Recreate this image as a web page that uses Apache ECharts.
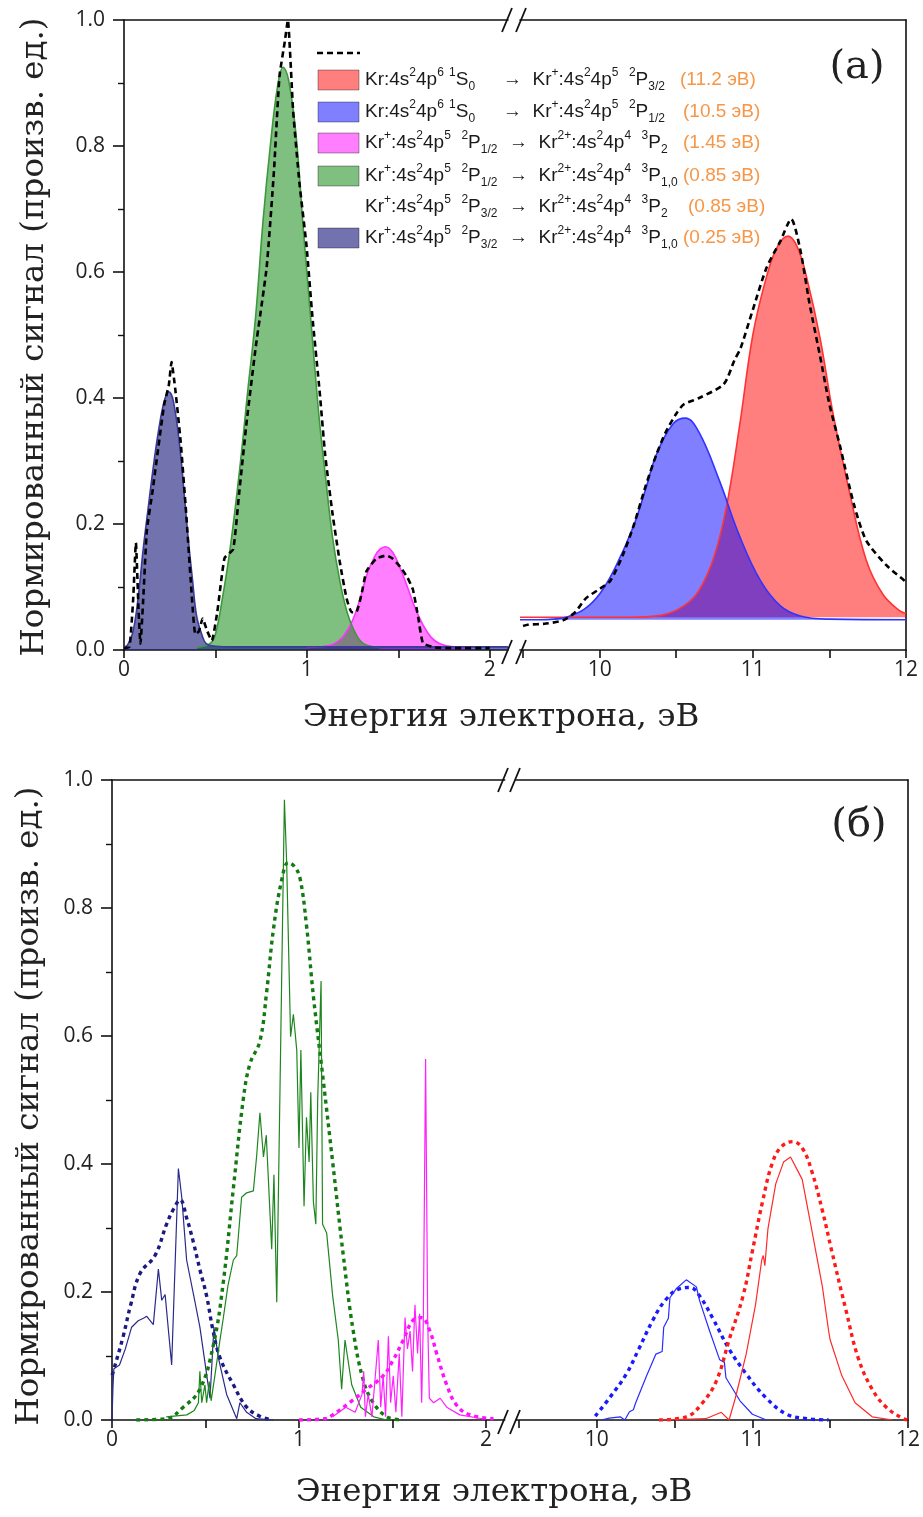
<!DOCTYPE html>
<html><head><meta charset="utf-8">
<script src="https://cdn.jsdelivr.net/npm/echarts@6/dist/echarts.min.js"></script>
<style>html,body{margin:0;padding:0;background:#fff}#c{width:923px;height:1517px}</style>
</head><body><div id="c"></div>
<script>
// ---------------- DATA ----------------
// Panel (a): fitted components [energy eV, signal]
const fitA_0_25 = [[0.0,0.005],[0.02,0.008],[0.05,0.03],[0.08,0.09],[0.105,0.16],[0.13,0.22],[0.16,0.29],[0.19,0.35],[0.22,0.395],[0.245,0.41],[0.27,0.395],[0.306,0.32],[0.33,0.245],[0.35,0.18],[0.375,0.11],[0.397,0.054],[0.425,0.025],[0.45,0.01],[0.5,0.006],[0.6,0.005],[2.1,0.005]];
const fitA_0_85 = [[0.40,0.004],[0.47,0.01],[0.50,0.025],[0.54,0.085],[0.58,0.16],[0.63,0.28],[0.68,0.42],[0.72,0.53],[0.76,0.68],[0.80,0.80],[0.84,0.895],[0.87,0.925],[0.90,0.905],[0.94,0.82],[0.98,0.67],[1.00,0.60],[1.04,0.46],[1.07,0.36],[1.10,0.28],[1.14,0.18],[1.18,0.11],[1.22,0.06],[1.26,0.03],[1.31,0.01],[1.40,0.004]];
const fitA_1_45 = [[1.0,0.004],[1.10,0.006],[1.15,0.01],[1.20,0.022],[1.25,0.047],[1.30,0.09],[1.326,0.118],[1.37,0.148],[1.40,0.16],[1.43,0.164],[1.47,0.155],[1.51,0.13],[1.545,0.104],[1.59,0.068],[1.635,0.04],[1.68,0.02],[1.727,0.01],[1.80,0.005],[1.9,0.004]];
const fitA_10_5 = [[9.48,0.048],[9.6,0.048],[9.7,0.049],[9.78,0.052],[9.9,0.065],[10.0,0.089],[10.1,0.13],[10.22,0.196],[10.3,0.255],[10.37,0.31],[10.48,0.359],[10.56,0.368],[10.65,0.345],[10.78,0.27],[10.915,0.18],[11.05,0.11],[11.18,0.07],[11.31,0.054],[11.5,0.049],[12.0,0.048]];
const fitA_11_2 = [[9.48,0.052],[10.2,0.052],[10.4,0.055],[10.55,0.07],[10.65,0.095],[10.75,0.15],[10.83,0.23],[10.915,0.358],[11.0,0.50],[11.09,0.593],[11.16,0.64],[11.23,0.657],[11.29,0.64],[11.35,0.593],[11.44,0.494],[11.52,0.38],[11.63,0.252],[11.74,0.143],[11.85,0.088],[11.96,0.062],[12.0,0.058]];
// Panel (a): experimental spectrum (dashed)
const expA_low = [[0.00,0.003],[0.03,0.005],[0.05,0.08],[0.065,0.17],[0.08,0.06],[0.09,0.01],[0.105,0.08],[0.125,0.19],[0.155,0.25],[0.187,0.32],[0.22,0.39],[0.245,0.42],[0.26,0.457],[0.28,0.415],[0.31,0.33],[0.34,0.217],[0.365,0.11],[0.39,0.025],[0.41,0.03],[0.43,0.05],[0.455,0.03],[0.48,0.015],[0.51,0.06],[0.55,0.146],[0.597,0.16],[0.63,0.25],[0.67,0.36],[0.72,0.48],[0.78,0.607],[0.82,0.76],[0.85,0.91],[0.88,0.967],[0.896,1.0],[0.925,0.855],[0.96,0.74],[0.998,0.642],[1.03,0.53],[1.07,0.41],[1.10,0.31],[1.14,0.217],[1.18,0.14],[1.217,0.082],[1.245,0.06],[1.27,0.06],[1.30,0.09],[1.326,0.125],[1.38,0.145],[1.436,0.15],[1.47,0.145],[1.51,0.132],[1.55,0.115],[1.58,0.096],[1.61,0.05],[1.635,0.011],[1.70,0.004],[1.80,0.003],[2.0,0.003]];
const expA_high = [[9.50,0.038],[9.53,0.04],[9.65,0.042],[9.76,0.047],[9.84,0.06],[9.91,0.082],[10.0,0.097],[10.07,0.11],[10.15,0.15],[10.22,0.196],[10.30,0.26],[10.37,0.31],[10.43,0.345],[10.50,0.375],[10.55,0.39],[10.65,0.40],[10.81,0.422],[10.88,0.46],[10.92,0.479],[11.0,0.54],[11.09,0.607],[11.18,0.649],[11.25,0.684],[11.31,0.635],[11.37,0.55],[11.44,0.465],[11.50,0.39],[11.57,0.323],[11.66,0.231],[11.74,0.174],[11.87,0.135],[11.99,0.11],[12.0,0.108]];
// Panel (б): model (solid) and smoothed (dotted)
const navyDotB = [[0.0,0.07],[0.007,0.076],[0.06,0.131],[0.10,0.18],[0.15,0.229],[0.23,0.257],[0.292,0.306],[0.33,0.33],[0.364,0.344],[0.40,0.315],[0.435,0.278],[0.47,0.235],[0.506,0.194],[0.54,0.14],[0.578,0.097],[0.649,0.055],[0.72,0.02],[0.79,0.006],[0.86,0.0]];
const navySolidB = [[0.0,0.0],[0.005,0.05],[0.01,0.08],[0.04,0.086],[0.07,0.11],[0.105,0.145],[0.14,0.155],[0.168,0.159],[0.186,0.162],[0.221,0.149],[0.248,0.236],[0.266,0.187],[0.284,0.196],[0.319,0.086],[0.355,0.393],[0.373,0.348],[0.399,0.25],[0.444,0.184],[0.47,0.145],[0.497,0.09],[0.524,0.034],[0.545,0.145],[0.569,0.097],[0.613,0.04],[0.667,0.002],[0.684,0.027],[0.72,0.012],[0.77,0.002],[0.86,0.0]];
const greenDotB = [[0.13,0.0],[0.29,0.002],[0.381,0.02],[0.47,0.048],[0.542,0.117],[0.595,0.215],[0.649,0.362],[0.702,0.501],[0.738,0.557],[0.791,0.592],[0.827,0.669],[0.863,0.766],[0.907,0.843],[0.943,0.871],[0.975,0.865],[1.005,0.847],[1.04,0.773],[1.077,0.662],[1.13,0.53],[1.18,0.403],[1.237,0.257],[1.29,0.139],[1.344,0.062],[1.397,0.027],[1.47,0.005],[1.55,0.0]];
const greenSolidB = [[0.29,0.005],[0.40,0.008],[0.44,0.015],[0.462,0.027],[0.47,0.076],[0.48,0.027],[0.497,0.055],[0.506,0.027],[0.52,0.06],[0.53,0.03],[0.55,0.069],[0.575,0.12],[0.595,0.159],[0.62,0.21],[0.649,0.25],[0.667,0.257],[0.693,0.348],[0.72,0.355],[0.756,0.358],[0.774,0.414],[0.791,0.48],[0.81,0.411],[0.825,0.445],[0.854,0.267],[0.866,0.383],[0.881,0.184],[0.907,0.683],[0.922,0.969],[0.934,0.871],[0.955,0.599],[0.97,0.634],[0.988,0.578],[1.0,0.425],[1.01,0.578],[1.027,0.334],[1.04,0.473],[1.054,0.403],[1.063,0.512],[1.077,0.341],[1.09,0.306],[1.10,0.501],[1.118,0.686],[1.126,0.306],[1.148,0.292],[1.18,0.194],[1.21,0.125],[1.228,0.048],[1.246,0.125],[1.282,0.055],[1.33,0.02],[1.40,0.005],[1.47,0.0]];
const magentaDotB = [[1.0,0.0],[1.14,0.002],[1.18,0.008],[1.27,0.027],[1.36,0.048],[1.45,0.069],[1.504,0.094],[1.558,0.125],[1.61,0.156],[1.656,0.16],[1.70,0.139],[1.736,0.104],[1.79,0.055],[1.843,0.023],[1.914,0.008],[2.04,0.002]];
const magentaSolidB = [[1.18,0.005],[1.25,0.02],[1.30,0.012],[1.337,0.04],[1.346,0.076],[1.355,0.005],[1.37,0.04],[1.39,0.005],[1.424,0.125],[1.437,0.02],[1.45,0.069],[1.463,0.005],[1.478,0.131],[1.49,0.027],[1.504,0.069],[1.518,0.012],[1.536,0.104],[1.55,0.005],[1.567,0.16],[1.58,0.111],[1.594,0.139],[1.607,0.076],[1.62,0.18],[1.634,0.104],[1.645,0.166],[1.656,0.027],[1.665,0.16],[1.677,0.564],[1.688,0.16],[1.697,0.034],[1.72,0.027],[1.755,0.034],[1.79,0.02],[1.86,0.008],[1.98,0.002]];
const blueDotB = [[9.99,0.006],[10.08,0.034],[10.19,0.072],[10.27,0.111],[10.36,0.156],[10.44,0.187],[10.53,0.205],[10.6,0.207],[10.66,0.194],[10.745,0.159],[10.85,0.111],[10.96,0.072],[11.09,0.034],[11.22,0.009],[11.35,0.002],[11.49,0.0]];
const blueSolidB = [[10.03,0.0],[10.08,0.003],[10.15,0.005],[10.18,0.0],[10.21,0.013],[10.235,0.016],[10.25,0.027],[10.32,0.069],[10.38,0.103],[10.42,0.107],[10.43,0.145],[10.46,0.159],[10.47,0.191],[10.51,0.205],[10.575,0.219],[10.64,0.208],[10.66,0.187],[10.725,0.139],[10.79,0.094],[10.82,0.09],[10.83,0.066],[10.92,0.03],[11.0,0.009],[11.09,0.0]];
const redDotB = [[10.4,0.0],[10.575,0.005],[10.68,0.027],[10.77,0.062],[10.85,0.125],[10.94,0.194],[11.0,0.264],[11.065,0.341],[11.13,0.403],[11.19,0.428],[11.26,0.435],[11.32,0.425],[11.38,0.39],[11.45,0.327],[11.51,0.264],[11.6,0.173],[11.68,0.097],[11.77,0.048],[11.86,0.02],[11.97,0.002],[12.0,0.0]];
const redSolidB = [[10.4,0.0],[10.7,0.002],[10.77,0.009],[10.8,0.012],[10.85,0.0],[10.89,0.034],[10.96,0.103],[11.02,0.18],[11.06,0.25],[11.07,0.257],[11.08,0.241],[11.1,0.299],[11.15,0.369],[11.2,0.403],[11.245,0.411],[11.29,0.39],[11.32,0.376],[11.38,0.299],[11.45,0.208],[11.49,0.139],[11.5,0.125],[11.575,0.069],[11.66,0.027],[11.77,0.005],[11.9,0.0]];

// axis ticks / labels
const xLowTicks = [0, 0.5, 1, 1.5, 2];
const xLowLabels = [0, 1, 2];
const xHighTicks = [9.5, 10, 10.5, 11, 11.5, 12];
const xHighLabels = [10, 11, 12];
const xLowRange = [0, 2.1];
const xHighRange = [9.48, 12];
const baseBlueA = 0.048, baseRedA = 0.052;

// texts
const yTitle = 'Нормированный сигнал (произв. ед.)';
const xTitle = 'Энергия электрона, эВ';
const panelTags = ['(a)', '(б)'];
const legendA = [
  ['Kr:4s^{2}4p^{6} ^{1}S_{0}', '→  Kr^{+}:4s^{2}4p^{5}  ^{2}P_{3/2}', '(11.2 эВ)', 'rgba(255,0,0,0.5)'],
  ['Kr:4s^{2}4p^{6} ^{1}S_{0}', '→  Kr^{+}:4s^{2}4p^{5}  ^{2}P_{1/2}', '(10.5 эВ)', 'rgba(0,0,255,0.5)'],
  ['Kr^{+}:4s^{2}4p^{5}  ^{2}P_{1/2}', '→  Kr^{2+}:4s^{2}4p^{4}  ^{3}P_{2}', '(1.45 эВ)', 'rgba(255,0,255,0.5)'],
  ['Kr^{+}:4s^{2}4p^{5}  ^{2}P_{1/2}', '→  Kr^{2+}:4s^{2}4p^{4}  ^{3}P_{1,0}', '(0.85 эВ)', 'rgba(0,128,0,0.5)'],
  ['Kr^{+}:4s^{2}4p^{5}  ^{2}P_{3/2}', '→  Kr^{2+}:4s^{2}4p^{4}  ^{3}P_{2}', '(0.85 эВ)', null],
  ['Kr^{+}:4s^{2}4p^{5}  ^{2}P_{3/2}', '→  Kr^{2+}:4s^{2}4p^{4}  ^{3}P_{1,0}', '(0.25 эВ)', 'rgba(20,20,120,0.6)']
];

// ---------------- LAYOUT ----------------
const G = [
  {left:124, top:20, width:384, height:630},
  {left:520, top:20, width:386, height:630},
  {left:112, top:780, width:392.7, height:640},
  {left:515.9, top:780, width:393.1, height:640}
];
const AXC = '#111', TF = 'Open Sans', SERIF = 'DejaVu Serif';

function xBottom(gi, range, ticks, labels) {
  return {type:'value', gridIndex:gi, position:'bottom', min:range[0], max:range[1],
    axisLine:{show:true, onZero:false, lineStyle:{color:AXC, width:1.6}},
    axisTick:{show:true, inside:false, length:8, customValues:ticks, lineStyle:{color:AXC, width:1.6}},
    axisLabel:{show:true, customValues:labels, margin:10, color:'#222', fontSize:21, fontFamily:TF, formatter:v=>String(v)},
    splitLine:{show:false}};
}
function xTop(gi, range) {
  return {type:'value', gridIndex:gi, position:'top', min:range[0], max:range[1],
    axisLine:{show:true, onZero:false, lineStyle:{color:AXC, width:1.6}},
    axisTick:{show:false}, axisLabel:{show:false}, splitLine:{show:false}};
}
function yLeft(gi) {
  return {type:'value', gridIndex:gi, position:'left', min:0, max:1, interval:0.2,
    axisLine:{show:true, onZero:false, lineStyle:{color:AXC, width:1.6}},
    axisTick:{show:true, inside:false, length:11, lineStyle:{color:AXC, width:1.6}},
    minorTick:{show:true, splitNumber:2, length:6, lineStyle:{color:AXC, width:1.4}},
    axisLabel:{show:true, margin:19, color:'#222', fontSize:21, fontFamily:TF, formatter:v=>v.toFixed(1)},
    splitLine:{show:false}, minorSplitLine:{show:false}};
}
function yRight(gi) {
  return {type:'value', gridIndex:gi, position:'right', min:0, max:1,
    axisLine:{show:true, onZero:false, lineStyle:{color:AXC, width:1.6}},
    axisTick:{show:false}, axisLabel:{show:false}, splitLine:{show:false}};
}

function fill(data, xi, yi, line, area, origin) {
  return {type:'line', data, xAxisIndex:xi, yAxisIndex:yi, smooth:0.4, showSymbol:false, symbol:'none',
    lineStyle:{color:line, width:1.6}, areaStyle:{color:area, opacity:1, origin:origin}, z:2, silent:true};
}
function curve(data, xi, yi, color, width, dash, smooth, z) {
  return {type:'line', data, xAxisIndex:xi, yAxisIndex:yi, smooth:smooth, showSymbol:false, symbol:'none',
    lineStyle:{color, width, type:dash}, z:z||3, silent:true};
}

const series = [
  fill(fitA_1_45, 0, 0, '#ff33ff', 'rgba(255,0,255,0.5)', 'start'),
  fill(fitA_0_85, 0, 0, '#3c9a3c', 'rgba(0,128,0,0.5)', 'start'),
  fill(fitA_0_25, 0, 0, '#3a3a9a', 'rgba(20,20,120,0.6)', 'start'),
  curve(expA_low, 0, 0, '#000', 2.6, [6,4], 0.15, 5),
  fill(fitA_11_2, 2, 1, '#ff3333', 'rgba(255,0,0,0.5)', baseRedA),
  fill(fitA_10_5, 2, 1, '#3333ff', 'rgba(0,0,255,0.5)', baseBlueA),
  curve(expA_high, 2, 1, '#000', 2.6, [6,4], 0.25, 5),

  curve(navyDotB, 4, 2, '#1a1a80', 3.4, [4,4], 0.4),
  curve(navySolidB, 4, 2, '#2a2a8a', 1.2, 'solid', false),
  curve(greenDotB, 4, 2, '#117a11', 3.4, [4,4], 0.4),
  curve(greenSolidB, 4, 2, '#1f861f', 1.2, 'solid', false),
  curve(magentaDotB, 4, 2, '#ff10ff', 3.4, [4,4], 0.4),
  curve(magentaSolidB, 4, 2, '#ff20ff', 1.2, 'solid', false),
  curve(blueDotB, 6, 3, '#1a1aff', 3.4, [4,4], 0.4),
  curve(blueSolidB, 6, 3, '#2a2aff', 1.2, 'solid', false),
  curve(redDotB, 6, 3, '#ff1a1a', 3.4, [4,4], 0.4),
  curve(redSolidB, 6, 3, '#ff2a2a', 1.2, 'solid', false)
];

// ---------------- GRAPHIC ----------------
function rich(markup) {
  const s = markup.replace(/\^\{([^}]*)\}/g, '}{p|$1}{n|').replace(/_\{([^}]*)\}/g, '}{b|$1}{n|');
  return ('{n|' + s + '}').replace(/\{n\|\}/g, '');
}
const LF = 'Liberation Sans';
const richStyles = {
  n:{fontSize:19, fontFamily:LF, fill:'#1a1a1a', lineHeight:26},
  p:{fontSize:12, fontFamily:LF, fill:'#1a1a1a', lineHeight:18, verticalAlign:'top'},
  b:{fontSize:12, fontFamily:LF, fill:'#1a1a1a', lineHeight:12, verticalAlign:'bottom'},
  o:{fontSize:19, fontFamily:LF, fill:'#f79646', lineHeight:26}
};
const graphics = [];
function txt(x, y, text, opts) {
  graphics.push(Object.assign({type:'text', x, y, silent:true, style:Object.assign({text, x:0, y:0,
    align:'left', verticalAlign:'middle', textAlign:'left', textVerticalAlign:'middle'}, opts.style)}, opts.el || {}));
}
function slash(cx, cy) {
  graphics.push({type:'line', silent:true, shape:{x1:cx-5, y1:cy+12, x2:cx+5, y2:cy-12}, style:{stroke:'#111', lineWidth:1.8}});
}
// break marks
[[507,20],[521,20],[507,652],[521,652],[503,780],[515,780],[503,1422],[515,1422]].forEach(p=>slash(p[0],p[1]));
// legend (a)
graphics.push({type:'line', silent:true, shape:{x1:317,y1:53,x2:360,y2:53}, style:{stroke:'#000', lineWidth:2.6, lineDash:[6,4]}});
const rowY = [80,112,143,176,207,238];
const segBx = [503,503,509,509,509,509];
const segCx = [680,683,683,683,688,683];
legendA.forEach((r,i)=>{
  if (r[3]) graphics.push({type:'rect', silent:true, shape:{x:318, y:rowY[i]-10, width:41, height:20},
     style:{fill:r[3], stroke:'rgba(0,0,0,0.35)', lineWidth:1}});
  txt(365, rowY[i], rich(r[0]), {style:{rich:richStyles}});
  txt(segBx[i], rowY[i], rich(r[1]), {style:{rich:richStyles}});
  txt(segCx[i], rowY[i], '{o|'+r[2]+'}', {style:{rich:richStyles}});
});
// panel tags
txt(857, 68, panelTags[0], {style:{fontSize:40, fontFamily:SERIF, fill:'#222', align:'center', textAlign:'center'}});
txt(859, 826, panelTags[1], {style:{fontSize:40, fontFamily:SERIF, fill:'#222', align:'center', textAlign:'center'}});
// axis titles
txt(501, 718, xTitle, {style:{fontSize:32.5, fontFamily:SERIF, fill:'#222', align:'center', textAlign:'center'}});
txt(494, 1493, xTitle, {style:{fontSize:32.5, fontFamily:SERIF, fill:'#222', align:'center', textAlign:'center'}});
txt(35, 337, yTitle, {style:{fontSize:32.5, fontFamily:SERIF, fill:'#222', align:'center', textAlign:'center'}, el:{rotation:Math.PI/2}});
txt(30, 1106, yTitle, {style:{fontSize:32.5, fontFamily:SERIF, fill:'#222', align:'center', textAlign:'center'}, el:{rotation:Math.PI/2}});

const chart = echarts.init(document.getElementById('c'), null, {renderer:'canvas'});
chart.setOption({
  animation:false,
  backgroundColor:'#fff',
  grid:G.map(g=>Object.assign({containLabel:false}, g)),
  xAxis:[xBottom(0,xLowRange,xLowTicks,xLowLabels), xTop(0,xLowRange),
         xBottom(1,xHighRange,xHighTicks,xHighLabels), xTop(1,xHighRange),
         xBottom(2,xLowRange,xLowTicks,xLowLabels), xTop(2,xLowRange),
         xBottom(3,xHighRange,xHighTicks,xHighLabels), xTop(3,xHighRange)],
  yAxis:[yLeft(0), yRight(1), yLeft(2), yRight(3)],
  series,
  graphic:{elements:graphics}
});
</script></body></html>
